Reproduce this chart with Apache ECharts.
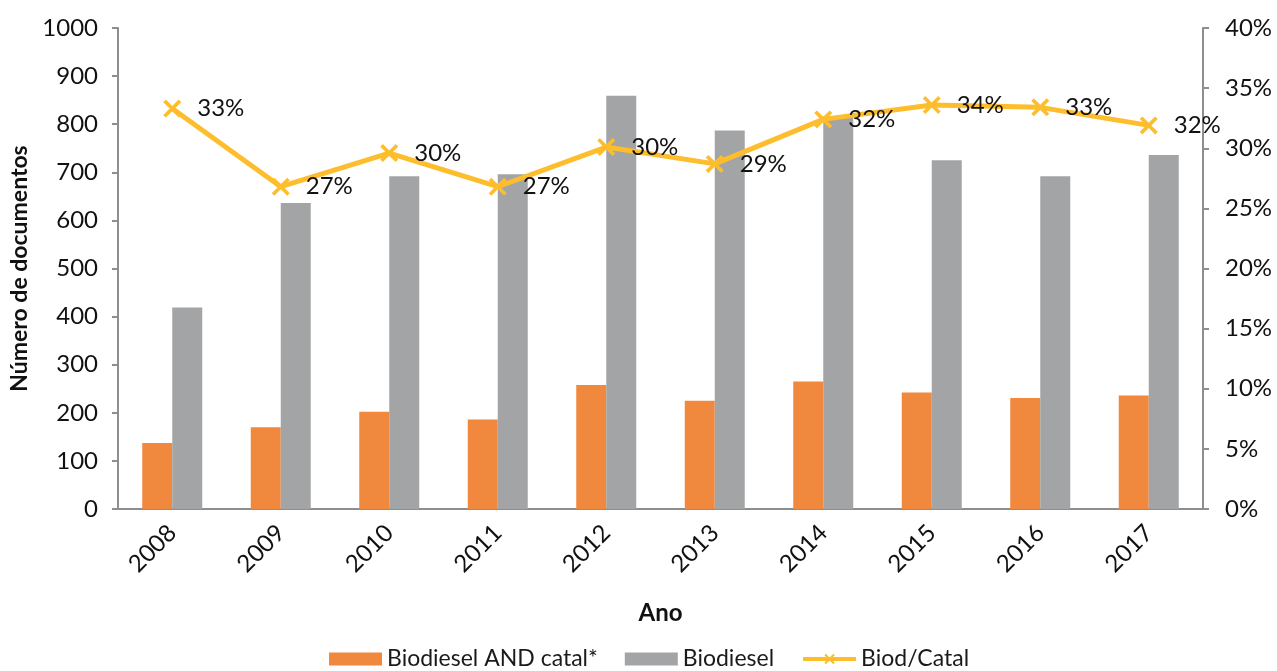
<!DOCTYPE html>
<html>
<head>
<meta charset="utf-8">
<script src="https://cdn.jsdelivr.net/npm/echarts@6/dist/echarts.min.js"></script>
<style>
  html, body { margin: 0; padding: 0; background: #fff; }
  #chart { width: 1277px; height: 671px; }
</style>
</head>
<body>
<div id="chart"></div>
<script>
// Publications per year: catalysis subset vs. all biodiesel documents
const years = ['2008', '2009', '2010', '2011', '2012', '2013', '2014', '2015', '2016', '2017'];
const catalDocs = [137, 170, 202, 186, 258, 225, 265, 242, 231, 236];
const biodieselDocs = [419, 636, 692, 696, 859, 787, 816, 725, 692, 736];
const ratio = [0.333, 0.268, 0.296, 0.268, 0.301, 0.287, 0.324, 0.336, 0.334, 0.319];
const leftTicks = [0, 1000, 100];
const rightTicks = [0, 0.4, 0.05];

const FONT = 'Lato, "Open Sans", sans-serif';
const AXIS_GRAY = '#8e8e8e';
const ORANGE = '#F0883E';
const GRAY = '#A3A4A5';
const GOLD = '#FDBD2C';
const crossSymbol = 'path://M0,2L2,0L7,5L12,0L14,2L9,7L14,12L12,14L7,9L2,14L0,12L5,7Z';

const chart = echarts.init(document.getElementById('chart'));
chart.setOption({
  animation: false,
  textStyle: { fontFamily: FONT },
  grid: { left: 118, right: 74, top: 28, bottom: 162, containLabel: false },
  legend: {
    left: 329, top: 645, padding: 0,
    itemWidth: 53, itemHeight: 13, itemGap: 27,
    textStyle: { fontFamily: FONT, fontSize: 23, color: '#1a1a1a', lineHeight: 28 },
    data: [
      { name: 'Biodiesel AND catal*', icon: 'rect' },
      { name: 'Biodiesel', icon: 'rect' },
      { name: 'Biod/Catal', lineStyle: { width: 4 } }
    ]
  },
  xAxis: {
    type: 'category',
    data: years,
    name: 'Ano',
    nameLocation: 'middle',
    nameGap: 92,
    nameTextStyle: { fontFamily: FONT, fontSize: 24, fontWeight: 'bold', color: '#111' },
    axisLine: { lineStyle: { color: AXIS_GRAY, width: 2 } },
    axisTick: { show: false },
    axisLabel: { rotate: 45, margin: 20, fontFamily: FONT, fontSize: 24, color: '#111' }
  },
  yAxis: [
    {
      type: 'value',
      min: leftTicks[0], max: leftTicks[1], interval: leftTicks[2],
      name: 'Número de documentos',
      nameLocation: 'middle',
      nameGap: 86,
      nameTextStyle: { fontFamily: FONT, fontSize: 23, fontWeight: 'bold', color: '#111' },
      axisLine: { show: true, lineStyle: { color: AXIS_GRAY, width: 2 } },
      axisTick: { show: true, length: 6, lineStyle: { color: AXIS_GRAY, width: 2 } },
      axisLabel: { margin: 20, fontFamily: FONT, fontSize: 24, color: '#111', formatter: v => String(v) },
      splitLine: { show: false }
    },
    {
      type: 'value',
      min: rightTicks[0], max: rightTicks[1], interval: rightTicks[2],
      position: 'right',
      axisLine: { show: true, lineStyle: { color: AXIS_GRAY, width: 2 } },
      axisTick: { show: true, length: 6, lineStyle: { color: AXIS_GRAY, width: 2 } },
      axisLabel: {
        margin: 22, fontFamily: FONT, fontSize: 24, color: '#111',
        formatter: v => Math.round(v * 100) + '%'
      },
      splitLine: { show: false }
    }
  ],
  series: [
    {
      name: 'Biodiesel AND catal*',
      type: 'bar',
      data: catalDocs,
      barWidth: 30,
      barGap: '0%',
      itemStyle: { color: ORANGE }
    },
    {
      name: 'Biodiesel',
      type: 'bar',
      data: biodieselDocs,
      barWidth: 30,
      itemStyle: { color: GRAY }
    },
    {
      name: 'Biod/Catal',
      type: 'line',
      yAxisIndex: 1,
      data: ratio,
      symbol: crossSymbol,
      symbolSize: 18,
      lineStyle: { color: GOLD, width: 5 },
      itemStyle: { color: GOLD },
      label: {
        show: true,
        position: 'right',
        distance: 16,
        fontFamily: FONT,
        fontSize: 24,
        color: '#111',
        formatter: p => Math.round(p.value * 100) + '%'
      },
      z: 5
    }
  ]
});
</script>
</body>
</html>
